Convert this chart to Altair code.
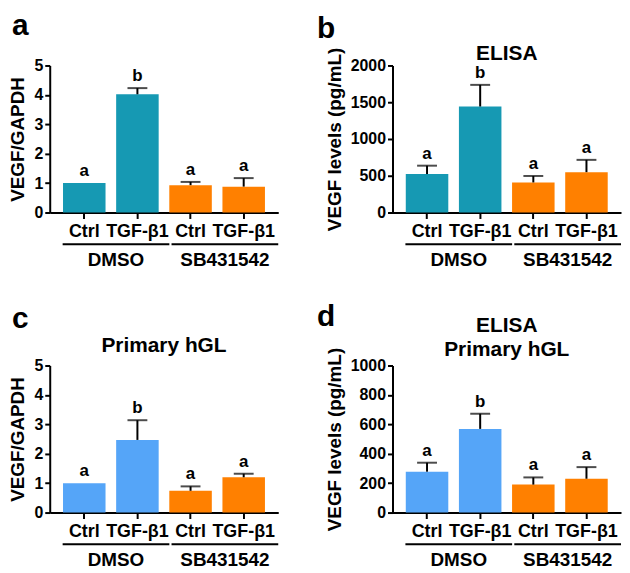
import altair as alt
import pandas as pd

FONT = "Liberation Sans"

keys = ["DMSO|Ctrl", "DMSO|TGF-β1", "SB431542|Ctrl", "SB431542|TGF-β1"]
groups = ["DMSO", "DMSO", "SB431542", "SB431542"]
group_names = ["DMSO", "SB431542"]
letters = ["a", "b", "a", "a"]

# panel a
a_vals = [1.0, 4.02, 0.93, 0.88]
a_upper = [None, 4.23, 1.04, 1.17]
# panel b
b_vals = [523, 1442, 409, 549]
b_upper = [637, 1736, 497, 716]
# panel c
c_vals = [1.0, 2.47, 0.74, 1.20]
c_upper = [None, 3.14, 0.89, 1.32]
# panel d
d_vals = [278, 569, 190, 230]
d_upper = [339, 672, 239, 309]

a_ticks = [0, 1, 2, 3, 4, 5]
b_ticks = [0, 500, 1000, 1500, 2000]
c_ticks = [0, 1, 2, 3, 4, 5]
d_ticks = [0, 200, 400, 600, 800, 1000]

TEAL = "#1699b3"
LBLUE = "#55a5f8"
ORANGE = "#ff8000"

W = 230
H = 148


def panel(vals, upper, ticks, ytitle, titles, letter, lpos, color):
    df = pd.DataFrame({"key": keys, "group": groups, "value": vals,
                       "upper": upper, "letter": letters})
    base = alt.Chart(df)
    xaxis = alt.Axis(title=None, labelExpr="split(datum.value,'|')[1]",
                     labelAngle=0, labelFont=FONT, labelFontSize=18,
                     labelFontWeight="bold", labelColor="black",
                     labelPadding=4, labelOverlap=False, labelBound=False,
                     tickSize=6, tickWidth=2, tickColor="black",
                     domainWidth=2, domainColor="black")
    xscale = alt.Scale(domain=keys, paddingInner=0.2, paddingOuter=0.25)
    yscale = alt.Scale(domain=[ticks[0], ticks[-1]], nice=False)
    yaxis = alt.Axis(values=ticks, title=ytitle, grid=False, format="d",
                     labelOverlap=False, labelBound=False,
                     titleFont=FONT, titleFontSize=19, titleFontWeight="bold",
                     titleColor="black", titlePadding=6,
                     labelFont=FONT, labelFontSize=16, labelFontWeight="bold",
                     labelColor="black", labelPadding=2,
                     tickSize=5, tickWidth=2, tickColor="black",
                     domainWidth=2, domainColor="black")

    def X():
        return alt.X("key:N", sort=keys, scale=xscale, axis=xaxis)

    def Y(f):
        return alt.Y(f + ":Q", scale=yscale, axis=yaxis, title=ytitle)

    bars = base.mark_bar().encode(
        x=X(), y=Y("value"),
        color=alt.Color("group:N", scale=alt.Scale(domain=group_names, range=[color, ORANGE]),
                        legend=None))
    err = base.transform_filter("isValid(datum.upper)").mark_rule(
        color="black", strokeWidth=2).encode(
        x=X(), y=Y("value"), y2="upper:Q")
    cap = base.transform_filter("isValid(datum.upper)").mark_tick(
        color="black", thickness=2, size=20).encode(
        x=X(), y=Y("upper"))
    txt = base.transform_calculate(
        top="isValid(datum.upper) ? datum.upper : datum.value").mark_text(
        font=FONT, fontSize=17, fontWeight="bold", baseline="bottom", dy=-3,
        color="black").encode(
        x=X(), y=Y("top"), text="letter:N")
    main = alt.layer(bars, err, cap, txt)

    gdf = pd.DataFrame({"group": group_names})
    gscale = alt.Scale(domain=group_names, range=[13, W], paddingInner=0.02, paddingOuter=0)
    grect = alt.Chart(gdf).mark_rect(color="black").encode(
        x=alt.X("group:N", scale=gscale, axis=None),
        y=alt.value(H + 31), y2=alt.value(H + 33))
    gtext = alt.Chart(gdf).mark_text(
        font=FONT, fontSize=19, fontWeight="bold", baseline="alphabetic",
        color="black").encode(
        x=alt.X("group:N", scale=gscale, axis=None),
        y=alt.value(H + 54), text="group:N")
    glayer = alt.layer(grect, gtext)

    extras = [alt.Chart(pd.DataFrame({"t": [letter]})).mark_text(
        font=FONT, fontSize=30, fontWeight="bold", align="left", baseline="top",
        color="black").encode(
        x=alt.value(lpos[0]), y=alt.value(lpos[1]), text="t:N")]
    for t, ty in titles:
        extras.append(alt.Chart(pd.DataFrame({"t": [t]})).mark_text(
            font=FONT, fontSize=21, fontWeight="bold", align="center",
            baseline="alphabetic", color="black").encode(
            x=alt.value(W / 2), y=alt.value(ty), text="t:N"))

    ch = alt.layer(main, glayer, *extras).resolve_scale(x="independent")
    return ch.properties(width=W, height=H)


pa = panel(a_vals, a_upper, a_ticks, "VEGF/GAPDH", [], "a", (-38, -55), TEAL)
pb = panel(b_vals, b_upper, b_ticks, "VEGF levels (pg/mL)", [("ELISA", -6)], "b", (-76, -52), TEAL)
pc = panel(c_vals, c_upper, c_ticks, "VEGF/GAPDH", [("Primary hGL", -14)], "c", (-38, -62), LBLUE)
pd_ = panel(d_vals, d_upper, d_ticks, "VEGF levels (pg/mL)",
            [("ELISA", -34), ("Primary hGL", -10)], "d", (-76, -64), LBLUE)

chart = alt.concat(pa, pb, pc, pd_, columns=2,
                   spacing={"row": 154, "column": 115}, bounds="flush").resolve_scale(
    color="independent").configure(padding=1).configure_view(stroke=None)

chart.save("out.html", embed_options={"renderer": "svg", "actions": False})
